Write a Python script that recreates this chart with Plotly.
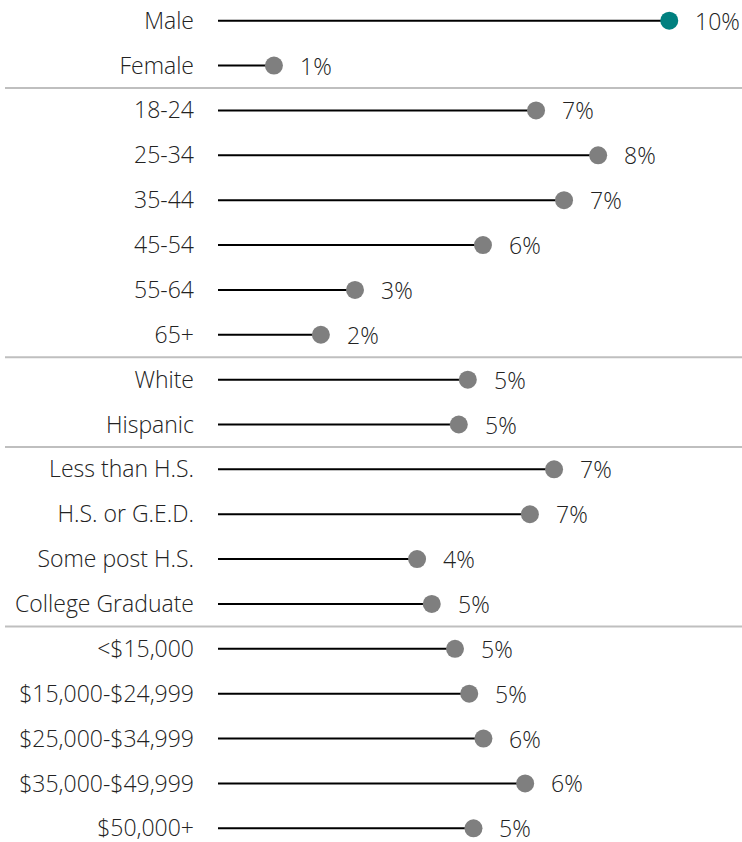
import plotly.graph_objects as go

# Share of respondents by demographic group (percent)
categories = [
    "Male", "Female",
    "18-24", "25-34", "35-44", "45-54", "55-64", "65+",
    "White", "Hispanic",
    "Less than H.S.", "H.S. or G.E.D.", "Some post H.S.", "College Graduate",
    "<$15,000", "$15,000-$24,999", "$25,000-$34,999", "$35,000-$49,999", "$50,000+",
]
values = [
    9.52, 1.18,
    6.71, 8.02, 7.30, 5.59, 2.89, 2.17,
    5.27, 5.08,
    7.09, 6.58, 4.20, 4.51,
    5.00, 5.30, 5.60, 6.48, 5.39,
]
highlight = "Male"
# rows after which a group divider is drawn
group_ends = [1, 7, 9, 13]

GREY = "#7f7f7f"
TEAL = "#00807f"
TEXT = "#222222"
FONT = dict(family="Open Sans", size=23, color=TEXT, weight=300)

ypos = list(range(len(categories)))

# stems: one polyline broken by None
sx, sy = [], []
for v, y in zip(values, ypos):
    sx += [0, v, None]
    sy += [y, y, None]

fig = go.Figure()
fig.add_trace(go.Scatter(
    x=sx, y=sy, mode="lines",
    line=dict(color="#000000", width=2),
    hoverinfo="skip", showlegend=False,
))
fig.add_trace(go.Scatter(
    x=values, y=ypos, mode="markers",
    marker=dict(
        size=18,
        color=[TEAL if c == highlight else GREY for c in categories],
        line=dict(width=0),
    ),
    showlegend=False,
))

for v, y in zip(values, ypos):
    fig.add_annotation(
        x=v, y=y, text=f"{v:.0f}%", showarrow=False,
        xanchor="left", yanchor="middle", xshift=25,
        height=26, borderpad=0, valign="middle",
        font=FONT,
    )

for g in group_ends:
    fig.add_shape(
        type="line", xref="paper", yref="y",
        x0=-213 / 524, x1=1, y0=g + 0.5, y1=g + 0.5,
        line=dict(color="#bfbfbf", width=2),
    )

fig.update_layout(
    width=742, height=842,
    margin=dict(l=218, r=0, t=0, b=0),
    paper_bgcolor="white", plot_bgcolor="white",
    font=FONT,
)
fig.update_xaxes(
    range=[0, 524 / 47.4], visible=False, showgrid=False, zeroline=False,
)
fig.update_yaxes(
    range=[18.305, -0.461],
    tickmode="array", tickvals=ypos, ticktext=categories,
    showgrid=False, zeroline=False, showline=False, ticks="",
    ticklabelstandoff=23, ticklabeloverflow="allow", tickfont=FONT,
)

fig.write_html("out.html")
